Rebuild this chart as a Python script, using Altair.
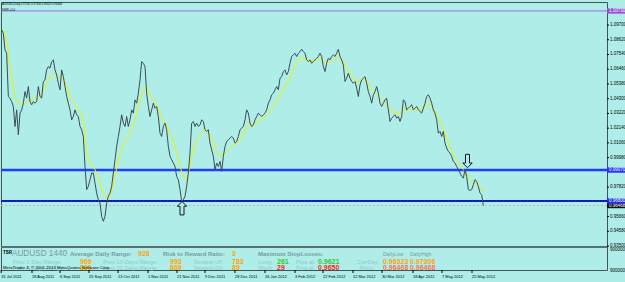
import altair as alt
import pandas as pd

# ---------------- data ----------------
price = [
    1.0934, 1.0909, 1.0787, 1.0763, 1.0446, 1.0434, 1.0409, 1.0373, 1.0226, 1.0348,
    1.0165, 1.0324, 1.0348, 1.0397, 1.0482, 1.0434, 1.0519, 1.0409, 1.0385, 1.0409,
    1.0397, 1.0409, 1.0519, 1.0446, 1.0434, 1.0556, 1.0568, 1.0641, 1.0665, 1.0653,
    1.0702, 1.0714, 1.0641, 1.0604, 1.0543, 1.0495, 1.0641, 1.0592, 1.0519, 1.0446,
    1.0397, 1.0348, 1.0275, 1.0299, 1.0348, 1.0312, 1.0299, 1.0226, 1.0202, 1.0153,
    0.9933, 0.9763, 0.9787, 0.9836, 0.9885, 0.9885, 0.9811, 0.9738, 0.9689, 0.9665,
    0.9567, 0.9531, 0.9567, 0.9665, 0.9714, 0.9738, 0.9787, 0.9885, 0.9982, 1.0080,
    1.0153, 1.0226, 1.0312, 1.0251, 1.0226, 1.0299, 1.0226, 1.0275, 1.0348, 1.0324,
    1.0421, 1.0397, 1.0470, 1.0568, 1.0702, 1.0690, 1.0665, 1.0470, 1.0373, 1.0299,
    1.0348, 1.0397, 1.0360, 1.0373, 1.0299, 1.0177, 1.0153, 1.0226, 1.0251, 1.0202,
    1.0080, 1.0007, 0.9982, 0.9958, 0.9933, 0.9860, 0.9836, 0.9763, 0.9677, 0.9689,
    0.9714, 0.9787, 0.9885, 1.0031, 1.0251, 1.0263, 1.0226, 1.0251, 1.0226, 1.0238,
    1.0275, 1.0263, 1.0202, 1.0190, 1.0202, 1.0104, 1.0055, 1.0007, 0.9909, 0.9958,
    0.9933, 0.9970, 0.9897, 1.0007, 1.0080, 1.0116, 1.0129, 1.0141, 1.0153, 1.0141,
    1.0104, 1.0116, 1.0153, 1.0202, 1.0214, 1.0226, 1.0275, 1.0348, 1.0324, 1.0251,
    1.0226, 1.0238, 1.0275, 1.0299, 1.0324, 1.0312, 1.0299, 1.0312, 1.0324, 1.0348,
    1.0397, 1.0421, 1.0458, 1.0470, 1.0495, 1.0519, 1.0495, 1.0580, 1.0592, 1.0629,
    1.0641, 1.0604, 1.0629, 1.0690, 1.0739, 1.0751, 1.0763, 1.0739, 1.0763, 1.0775,
    1.0792, 1.0775, 1.0763, 1.0714, 1.0702, 1.0714, 1.0690, 1.0702, 1.0714, 1.0726,
    1.0739, 1.0763, 1.0739, 1.0665, 1.0629, 1.0690, 1.0726, 1.0714, 1.0739, 1.0751,
    1.0739, 1.0763, 1.0792, 1.0739, 1.0714, 1.0678, 1.0556, 1.0580, 1.0617, 1.0580,
    1.0556, 1.0543, 1.0556, 1.0507, 1.0446, 1.0531, 1.0568, 1.0580, 1.0592, 1.0543,
    1.0482, 1.0446, 1.0397, 1.0458, 1.0482, 1.0519, 1.0470, 1.0397, 1.0373, 1.0397,
    1.0421, 1.0434, 1.0348, 1.0263, 1.0287, 1.0299, 1.0312, 1.0287, 1.0299, 1.0263,
    1.0299, 1.0421, 1.0409, 1.0348, 1.0360, 1.0373, 1.0385, 1.0348, 1.0360, 1.0373,
    1.0348, 1.0336, 1.0324, 1.0360, 1.0397, 1.0446, 1.0458, 1.0434, 1.0397, 1.0348,
    1.0324, 1.0275, 1.0177, 1.0190, 1.0153, 1.0190, 1.0104, 1.0068, 1.0043, 1.0031,
    1.0007, 0.9970, 0.9958, 0.9933, 0.9909, 0.9885, 0.9860, 0.9848, 0.9909, 0.9860,
    0.9763, 0.9758, 0.9763, 0.9799, 0.9836, 0.9823, 0.9787, 0.9738, 0.9726, 0.9647,
]

ma = [
    1.0934, 1.0861, 1.0665, 1.0495, 1.0409, 1.0397, 1.0385, 1.0409, 1.0421, 1.0421,
    1.0421, 1.0434, 1.0495, 1.0543, 1.0592, 1.0617, 1.0604, 1.0580, 1.0580, 1.0519,
    1.0446, 1.0397, 1.0373, 1.0336, 1.0275, 1.0031, 0.9958, 0.9933, 0.9885, 0.9811,
    0.9738, 0.9689, 0.9714, 0.9799, 0.9921, 1.0031, 1.0092, 1.0129, 1.0177, 1.0238,
    1.0324, 1.0421, 1.0495, 1.0507, 1.0458, 1.0421, 1.0385, 1.0324, 1.0280, 1.0238,
    1.0182, 1.0116, 1.0031, 0.9933, 0.9860, 0.9841, 0.9933, 1.0068, 1.0129, 1.0165,
    1.0190, 1.0190, 1.0165, 1.0104, 1.0043, 1.0007, 1.0019, 1.0043, 1.0068, 1.0092,
    1.0104, 1.0129, 1.0165, 1.0226, 1.0238, 1.0226, 1.0263, 1.0275, 1.0287, 1.0299,
    1.0336, 1.0373, 1.0409, 1.0458, 1.0495, 1.0543, 1.0580, 1.0641, 1.0690, 1.0726,
    1.0726, 1.0714, 1.0702, 1.0714, 1.0714, 1.0726, 1.0702, 1.0690, 1.0702, 1.0714,
    1.0726, 1.0739, 1.0702, 1.0653, 1.0617, 1.0580, 1.0556, 1.0556, 1.0580, 1.0568,
    1.0519, 1.0482, 1.0458, 1.0434, 1.0409, 1.0385, 1.0360, 1.0336, 1.0324, 1.0324,
    1.0348, 1.0348, 1.0348, 1.0353, 1.0348, 1.0348, 1.0360, 1.0373, 1.0397, 1.0360,
    1.0312, 1.0263, 1.0202, 1.0141, 1.0080, 1.0019, 0.9982, 0.9946, 0.9909, 0.9885,
    0.9836, 0.9811, 0.9823, 0.9787, 0.9750,
]

date_labels = [
    "31 Jul 2011", "18 Aug 2011", "6 Sep 2011", "25 Sep 2011", "13 Oct 2011",
    "1 Nov 2011", "21 Nov 2011", "9 Dec 2011", "28 Dec 2011", "16 Jan 2012",
    "3 Feb 2012", "22 Feb 2012", "12 Mar 2012", "30 Mar 2012", "18 Apr 2012",
    "7 May 2012", "25 May 2012",
]
date_pos = [0.7, 19.2, 36, 53.4, 70.8, 88.8, 106.2, 123, 141, 159,
            177, 193.8, 211.8, 229.2, 247.8, 265.2, 283.2]

y_ticks = [1.097, 1.0862, 1.0754, 1.0646, 1.0538, 1.043, 1.0322, 1.0214,
           1.0106, 0.9998, 0.9782, 0.9566, 0.9458, 0.935]

high_line = 1.1073
resistance = 0.9907
support = 0.9680
last_bid = 0.96468
separator = 0.93427

arrow_up = (109.2, 0.9627)
arrow_dn = (280.5, 0.9973)

# ---------------- layout / style ----------------
W, H = 606, 268
X_DOM = [0.6, 364.2]
Y_DOM = [0.91742, 1.11386]
BG = "#AEEDE8"
FONT = "Liberation Sans"
GRAY = "#7c98a6"
FAINT = "#93c9cc"
ORANGE = "#ffa500"
GREEN = "#2ecc2e"
RED = "#ff1a1a"
SALMON = "#ff7050"

xs = alt.Scale(domain=X_DOM, nice=False, zero=False)
ys = alt.Scale(domain=Y_DOM, nice=False, zero=False)
XQ = lambda f: alt.X(f, type="quantitative", scale=xs, axis=None)
YQ = lambda f: alt.Y(f, type="quantitative", scale=ys, axis=None)

df_p = pd.DataFrame({"t": list(range(1, len(price) + 1)), "p": price})
df_m = pd.DataFrame({"t": list(range(2, 2 * len(ma) + 1, 2)), "p": ma})
df_dates = pd.DataFrame({"t": date_pos, "s": date_labels})
df_yt = pd.DataFrame({"p": y_ticks, "s": ["%.5f" % v for v in y_ticks]})

layers = []

def hline(value, color, width, dash=None):
    kw = dict(color=color, strokeWidth=width)
    if dash:
        kw["strokeDash"] = dash
    return alt.Chart(pd.DataFrame({"p": [value]})).mark_rule(**kw).encode(y=YQ("p"))

layers.append(hline(separator, "#587070", 2))
layers.append(hline(high_line, "#9a6fd8", 1))
layers.append(hline(last_bid, "#e6a3bd", 1, [2, 2]))
layers.append(hline(resistance, "#1f3cff", 2.5))
layers.append(hline(support, "#0c24c8", 2))
layers.append(hline(support, "#000050", 0.8, [1, 2]))

# MA (yellow) and price (dark)
layers.append(alt.Chart(df_m).mark_line(color="#f2f200", strokeWidth=1).encode(
    x=XQ("t"), y=YQ("p")))
layers.append(alt.Chart(df_p).mark_line(color="#3f4c50", strokeWidth=1).encode(
    x=XQ("t"), y=YQ("p")))

# arrows
UP = "M0,-1L0.7,-0.3L0.3,-0.3L0.3,1L-0.3,1L-0.3,-0.3L-0.7,-0.3Z"
DN = "M0,1L0.7,0.3L0.3,0.3L0.3,-1L-0.3,-1L-0.3,0.3L-0.7,0.3Z"
for (t, p), shp in ((arrow_up, UP), (arrow_dn, DN)):
    layers.append(alt.Chart(pd.DataFrame({"t": [t], "p": [p]})).mark_point(
        shape=shp, size=180, filled=True, fill=BG, stroke="#1a1a1a", strokeWidth=1,
        opacity=1).encode(x=XQ("t"), y=YQ("p")))

# right price axis (ticks + labels through the y scale)
layers.append(alt.Chart(df_yt).mark_rule(color="#000000", strokeWidth=1).encode(
    y=YQ("p"), x=alt.value(W), x2=alt.value(W + 2)))
layers.append(alt.Chart(df_yt).mark_text(align="left", baseline="middle", fontSize=4.5,
                                         font=FONT, color="#000000").encode(
    y=YQ("p"), x=alt.value(W + 3), text="s:N"))

# bottom date axis (ticks + labels through the x scale)
layers.append(alt.Chart(df_dates).mark_rule(color="#000000", strokeWidth=1).encode(
    x=XQ("t"), y=alt.value(H), y2=alt.value(H + 3)))
layers.append(alt.Chart(df_dates).mark_text(align="left", baseline="middle", fontSize=4,
                                            font=FONT, color="#000000").encode(
    x=XQ("t"), y=alt.value(H + 7), text="s:N"))

# right-side price tags
BOX = "M-1,-0.3L1,-0.3L1,0.3L-1,0.3Z"
tags = [(high_line, "#9b4fd6", "1.10730"), (last_bid, "#111111", "0.96468"),
        (resistance, "#2233ff", "0.99070"), (support, "#1a2ee0", "0.96800")]
for p, col, s in tags:
    d = pd.DataFrame({"p": [p], "s": [s]})
    layers.append(alt.Chart(d).mark_point(shape=BOX, size=324, filled=True, color=col,
                                          opacity=1).encode(
        x=alt.value(W + 9), y=YQ("p")))
    layers.append(alt.Chart(d).mark_text(align="left", baseline="middle", fontSize=4.5,
                                         font=FONT, color="#ffffff").encode(
        x=alt.value(W + 2), y=YQ("p"), text="s:N"))

# texts (image pixel positions)
texts = [
    ("AUDUSD,Daily  0.97282 0.97306 0.96323 0.96468", 2, 4.5, 2.7, "#000000", "normal"),
    ("DSRI v1.0", 2, 9.3, 2.9, "#000000", "normal"),
    ("900000", 610, 250, 4.5, "#000000", "normal"),
    ("900000", 610, 270.5, 4.5, "#000000", "normal"),
    ("TSR", 3, 252.5, 4.5, "#000000", "bold"),
    ("AUDUSD 1440", 12, 253.5, 8.2, GRAY, "normal"),
    ("Average Daily Range:", 70, 253.5, 6, GRAY, "bold"),
    ("928", 138, 253.5, 7, ORANGE, "bold"),
    ("Risk to Reward Ratio:", 163, 253.5, 6, GRAY, "bold"),
    ("3", 232, 253.5, 7, ORANGE, "bold"),
    ("Maximum StopLosses:", 258, 253.5, 6, GRAY, "bold"),
    ("DailyLow", 383, 253.5, 5, GRAY, "normal"),
    ("DailyHigh", 410, 253.5, 5, GRAY, "normal"),
    ("Prev 1 Day Range:", 13, 261.5, 5.8, FAINT, "normal"),
    ("969", 80, 261.5, 7, ORANGE, "bold"),
    ("Prev 10 Days Range:", 103, 261.5, 5.8, FAINT, "normal"),
    ("993", 170, 261.5, 7, ORANGE, "bold"),
    ("Rewards UP:", 194, 261.5, 5, FAINT, "normal"),
    ("783", 232, 261.5, 7, ORANGE, "bold"),
    ("Long:", 258, 261.5, 5.8, FAINT, "normal"),
    ("261", 277, 261.5, 7, GREEN, "bold"),
    ("Pips at:", 296, 261.5, 5.8, FAINT, "normal"),
    ("0.9621", 318, 261.5, 7, GREEN, "bold"),
    ("CurrDay:", 357, 261.5, 5.5, FAINT, "normal"),
    ("0.96323", 383, 261.5, 7, ORANGE, "bold"),
    ("0.97306", 410, 261.5, 7, ORANGE, "bold"),
    ("Prev 5 Days Range:", 13, 267.5, 5.8, FAINT, "normal"),
    ("869", 80, 267.5, 7, ORANGE, "bold"),
    ("Prev 20 Days Range:", 103, 267.5, 5.8, FAINT, "normal"),
    ("869", 170, 267.5, 7, ORANGE, "bold"),
    ("Rewards DN:", 194, 267.5, 5, FAINT, "normal"),
    ("89", 232, 267.5, 7, ORANGE, "bold"),
    ("Short:", 258, 267.5, 5.8, FAINT, "normal"),
    ("29", 277, 267.5, 7, RED, "bold"),
    ("Pips at:", 296, 267.5, 5.8, FAINT, "normal"),
    ("0.9650", 318, 267.5, 7, RED, "bold"),
    ("Price:", 360, 267.5, 5.8, FAINT, "normal"),
    ("0.96468", 383, 267.5, 7, SALMON, "bold"),
    ("0.96468", 410, 267.5, 7, SALMON, "bold"),
    ("MetaTrader 4, \u00a9 2001-2013 MetaQuotes Software Corp.", 3, 268.3, 4.3, "#000000", "normal"),
]
for s, x, y, size, col, wt in texts:
    layers.append(alt.Chart(alt.Data(values=[{"s": s}])).mark_text(
        align="left", baseline="middle", fontSize=size, font=FONT, fontWeight=wt,
        color=col).encode(x=alt.value(x - 1), y=alt.value(y - 2), text="s:N"))

chart = alt.layer(*layers).properties(
    width=W, height=H,
    autosize=alt.AutoSizeParams(type="none"),
    padding={"left": 1, "top": 2, "right": 18, "bottom": 12},
    background=BG,
).configure_view(fill=BG, stroke="#3d5656", strokeWidth=1)

chart.save("out.html", embed_options={"renderer": "svg", "actions": False})
